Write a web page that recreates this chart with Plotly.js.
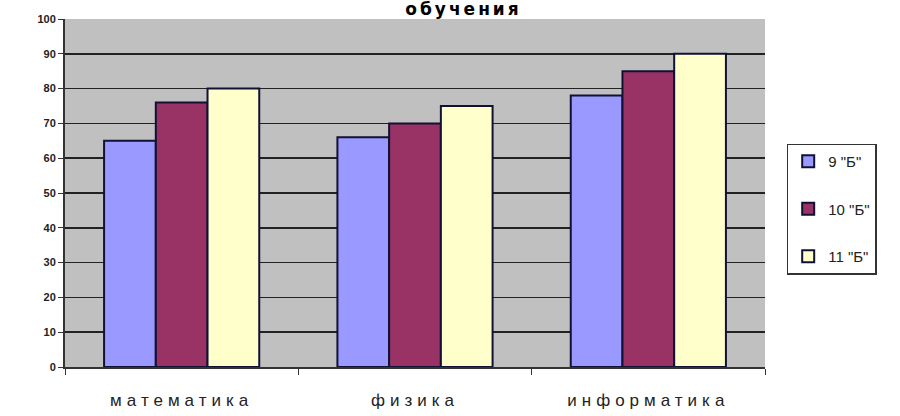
<!DOCTYPE html>
<html><head><meta charset="utf-8">
<script src="https://cdn.plot.ly/plotly-3.0.1.min.js"></script>
<style>body{margin:0;background:#fff}#c{width:900px;height:416px}</style>
</head><body><div id="c"></div>
<script>
const categories = ["математика", "физика", "информатика"];
const seriesNames = ['9 "Б"', '10 "Б"', '11 "Б"'];
const s9 = [65, 66, 78];
const s10 = [76, 70, 85];
const s11 = [80, 75, 90];
const yTicks = [0, 10, 20, 30, 40, 50, 60, 70, 80, 90, 100];
const colors = ["#9999ff", "#993366", "#ffffcc"];
const series = [s9, s10, s11];

const traces = series.map((vals, i) => ({
  type: "bar", x: categories, y: vals, name: seriesNames[i],
  legendgroup: "g" + i,
  marker: {color: colors[i], line: {color: "#111133", width: 2}},
  hoverinfo: "x+y+name"
}));

const layout = {
  width: 900, height: 416,
  margin: {l: 65, r: 135, t: 19, b: 49},
  paper_bgcolor: "#ffffff", plot_bgcolor: "#c0c0c0",
  barmode: "group", bargap: 0.335, bargroupgap: 0,
  title: {text: '<span style="letter-spacing:3px">обучения</span>', x: 0.515, xanchor: "center", y: 0.978, yanchor: "middle",
          font: {family: "DejaVu Sans, Arial", size: 17, color: "#000", weight: "bold"}},
  font: {family: "Liberation Sans, Arial", color: "#222"},
  xaxis: {type: "category", tickson: "boundaries", ticks: "outside", ticklen: 6, tickcolor: "#333",
          showline: true, linecolor: "#333", linewidth: 2, mirror: false, showgrid: false,
          tickvals: categories,
          ticktext: categories.map(c => '<span style="letter-spacing:5px">' + c + '</span>'),
          tickfont: {size: 17, color: "#222"}, ticklabelstandoff: 17},
  yaxis: {range: [0, 100], tickvals: yTicks, ticks: "outside", ticklen: 5, tickcolor: "#333",
          showline: true, linecolor: "#333", linewidth: 2, showgrid: true, gridcolor: "#222", gridwidth: 1.5,
          zeroline: false, tickfont: {size: 11, color: "#222", weight: "bold"}},
  legend: {x: 1.031, xanchor: "left", y: 0.642, yanchor: "top", bgcolor: "#ffffff",
           bordercolor: "#333", borderwidth: 1.5, font: {size: 15, color: "#222"},
           traceorder: "grouped", tracegroupgap: 25, itemwidth: 30},
  showlegend: true
};
Plotly.newPlot("c", traces, layout, {displayModeBar: false, staticPlot: true});
</script></body></html>
